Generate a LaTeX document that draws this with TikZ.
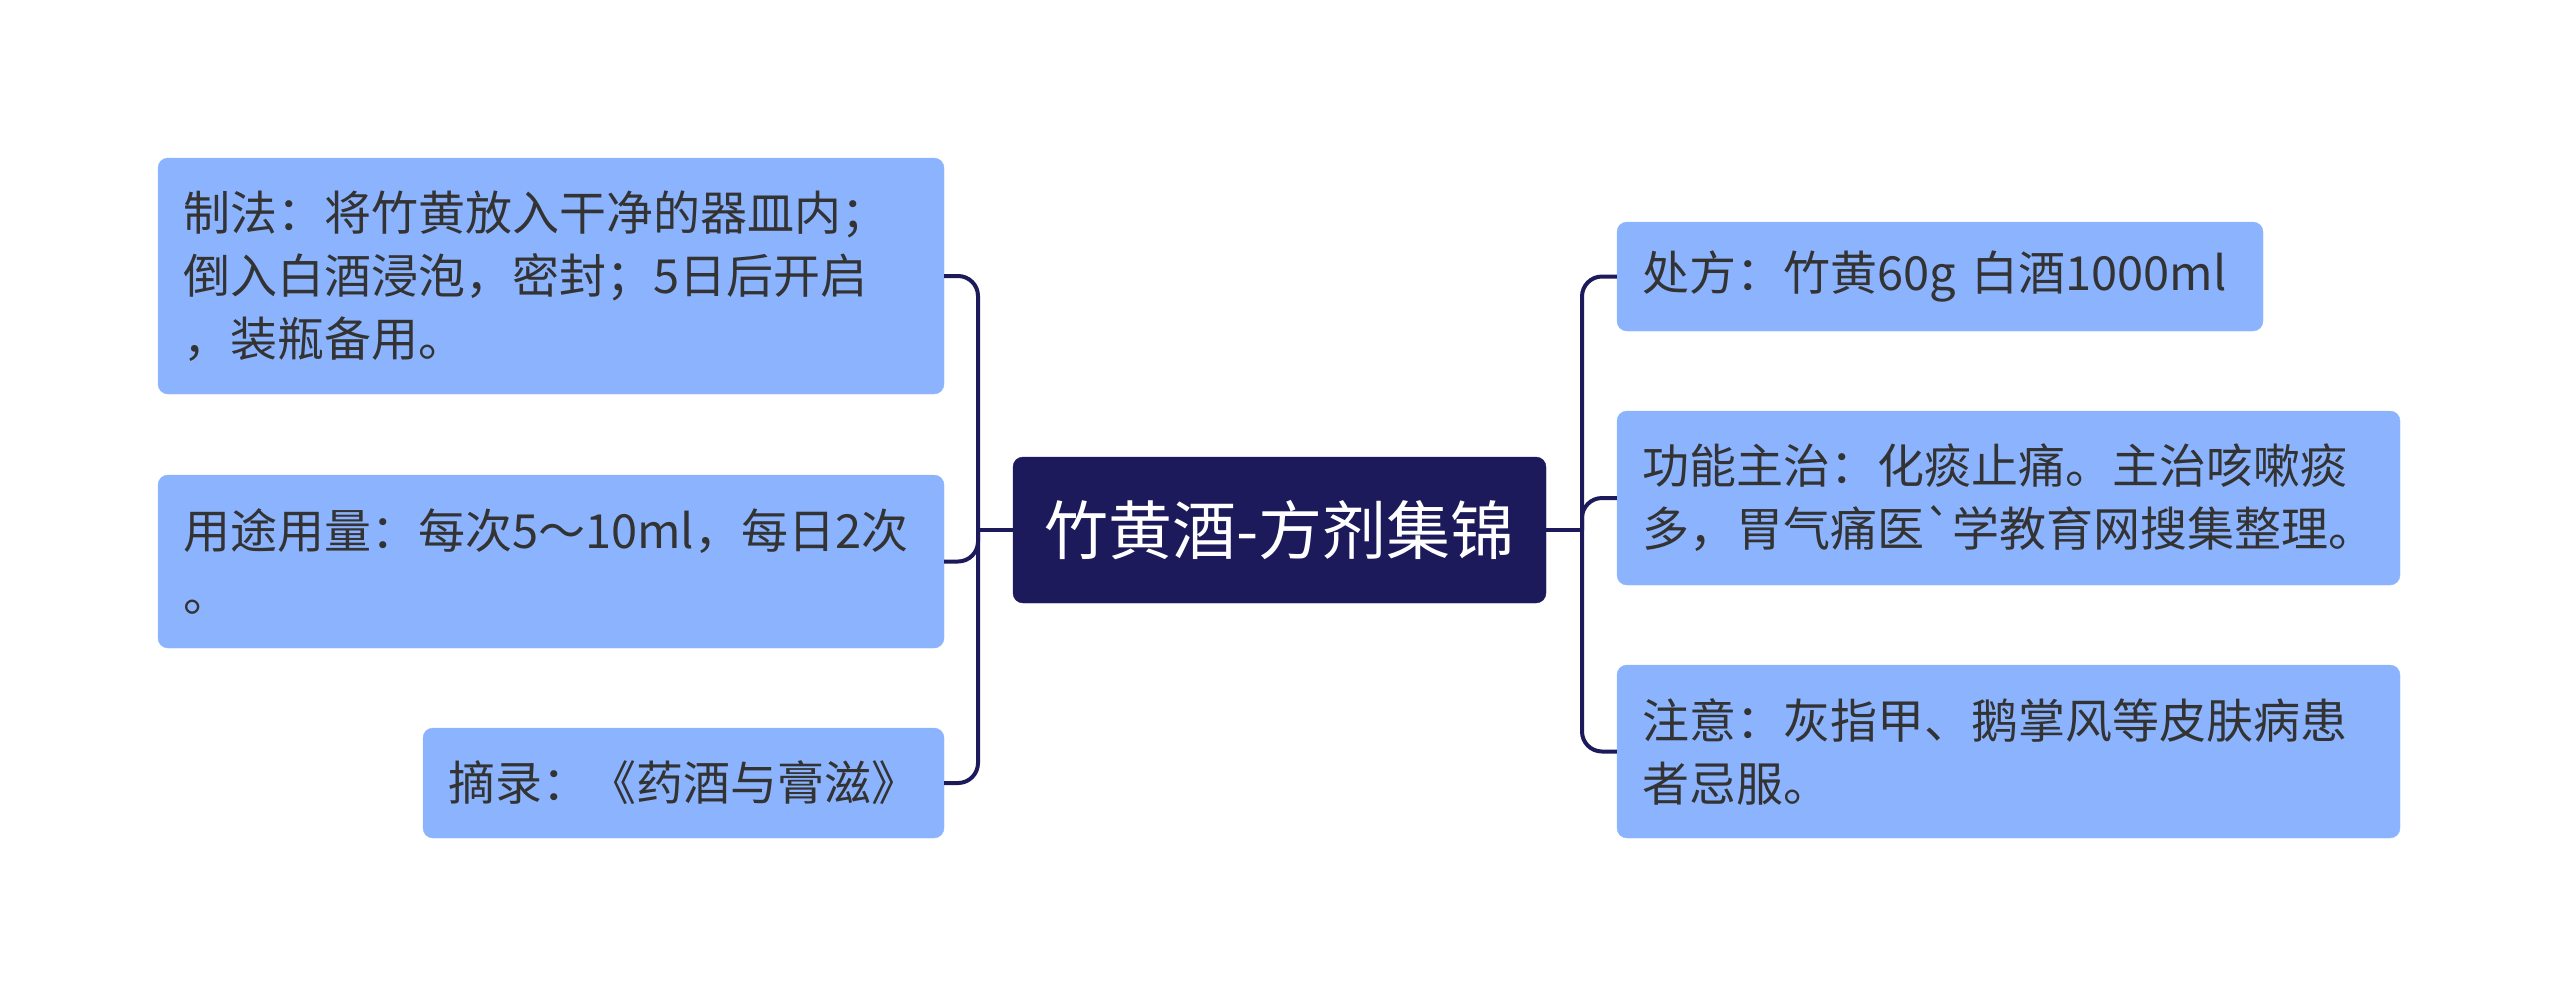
\documentclass[tikz,border=0pt]{standalone}
\usepackage{fontspec}
\newfontfamily\cjk{Noto Sans CJK SC}
\definecolor{boxblue}{HTML}{8CB4FE}
\definecolor{navy}{HTML}{1D1A5B}
\definecolor{txt}{HTML}{333333}
\tikzset{
  leaf/.style={draw=boxblue, fill=boxblue, rounded corners=10pt, inner ysep=0pt, inner xsep=25pt,
    text=txt, align=left, font=\cjk\fontsize{47}{63}\selectfont},
  root/.style={draw=navy, fill=navy, rounded corners=10pt, inner sep=0pt,
    text=white, align=center, font=\cjk\fontsize{64}{76}\selectfont},
  conn/.style={draw=navy, line width=4pt, rounded corners=20pt}
}
\begin{document}
\begin{tikzpicture}[x=1pt,y=-1pt]
\useasboundingbox (0,0) rectangle (2560,997);
% root
\node[root, minimum width=533pt, minimum height=146pt] (c) at (1279.5,530) {竹黄酒-方剂集锦};
% left leaves
\node[leaf, text width=736pt, minimum height=236pt] (b1) at (551,276) {制法：将竹黄放入干净的器皿内；\\倒入白酒浸泡，密封；5日后开启\\，装瓶备用。};
\node[leaf, text width=736pt, minimum height=173pt] (b2) at (551,561.5) {用途用量：每次5～10ml，每日2次\\。};
\node[leaf, text width=471pt, minimum height=110pt] (b3) at (683.5,783) {摘录：《药酒与膏滋》};
% right leaves
\node[leaf, text width=596pt, minimum height=109pt] (r1) at (1940,276.5) {处方：竹黄60g 白酒1000ml};
\node[leaf, text width=733pt, minimum height=174pt] (r2) at (2008.5,498) {功能主治：化痰止痛。主治咳嗽痰\\多，胃气痛医`学教育网搜集整理。};
\node[leaf, text width=733pt, minimum height=173pt] (r3) at (2008.5,751.5) {注意：灰指甲、鹅掌风等皮肤病患\\者忌服。};
% junctions
\coordinate (LT) at (978,530);
\coordinate (RT) at (1582,530);
% connectors
\draw[conn] (c.west) -- (LT);
\draw[conn] (b1.east) -| (LT);
\draw[conn] (b2.east) -| (LT);
\draw[conn] (b3.east) -| (LT);
\draw[conn] (c.east) -- (RT);
\draw[conn] (RT) |- (r1.west);
\draw[conn] (RT) |- (r2.west);
\draw[conn] (RT) |- (r3.west);
\end{tikzpicture}
\end{document}
